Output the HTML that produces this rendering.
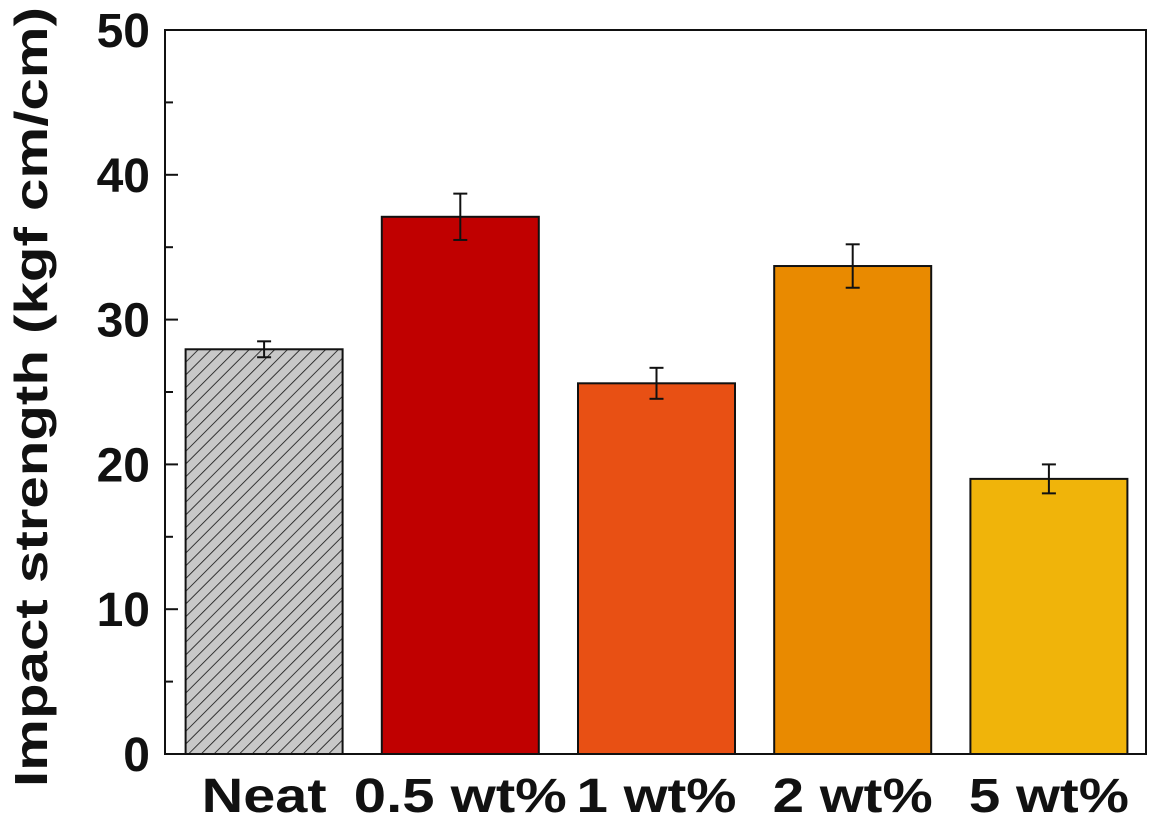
<!DOCTYPE html>
<html><head><meta charset="utf-8"><style>
html,body{margin:0;padding:0;background:#fff;}
svg{display:block;font-family:"Liberation Sans",Arial,sans-serif;font-weight:bold;}
</style></head><body>
<svg id="chart" width="1150" height="818" viewBox="0 0 1150 818">
<defs>
<pattern id="hatch" patternUnits="userSpaceOnUse" width="9" height="9" patternTransform="rotate(45)">
<rect width="9" height="9" fill="#c8c8c8"/>
<line x1="0" y1="0" x2="0" y2="9" stroke="#111" stroke-width="1.6"/>
</pattern>
</defs>
<g id="bars"></g>
<g id="axes"></g>
<text transform="translate(47,397) rotate(-90)" text-anchor="middle" font-size="46" textLength="780" lengthAdjust="spacingAndGlyphs" fill="#111">Impact strength (kgf cm/cm)</text>
</svg>
<script>
const categories = ["Neat","0.5 wt%","1 wt%","2 wt%","5 wt%"];
const values = [27.95, 37.1, 25.6, 33.7, 19.0];
const errors = [0.55, 1.6, 1.07, 1.5, 1.0];
const colors = ["url(#hatch)","#c00000","#e85014","#e98a00","#f0b40a"];
const yTicks = [0,10,20,30,40,50];
const labelWidths = [125, 213, 160, 160, 160];

const NS="http://www.w3.org/2000/svg";
const L=165,R=1146,T=30,B=754,yMax=50;
const y=v=>B-(v/yMax)*(B-T);
const slot=(R-L)/categories.length;
const bw=157;
const xc=i=>L+slot*(i+0.5)+1;
function mk(tag,attrs,parent){const e=document.createElementNS(NS,tag);for(const k in attrs)e.setAttribute(k,attrs[k]);parent.appendChild(e);return e;}
const bars=document.getElementById('bars'), axes=document.getElementById('axes');
categories.forEach((c,i)=>{
  const cx=xc(i);
  const r=mk('rect',{x:cx-bw/2,y:y(values[i]),width:bw,height:B-y(values[i]),fill:colors[i],stroke:"#111","stroke-width":2},bars);
  
  
  const g=mk('g',{stroke:"#111","stroke-width":2},bars);
  
  
  mk('line',{x1:cx,x2:cx,y1:y(values[i]+errors[i]),y2:y(values[i]-errors[i])},g);
  mk('line',{x1:cx-7,x2:cx+7,y1:y(values[i]+errors[i]),y2:y(values[i]+errors[i])},g);
  mk('line',{x1:cx-7,x2:cx+7,y1:y(values[i]-errors[i]),y2:y(values[i]-errors[i])},g);
  const t=mk('text',{x:cx,y:B+58,"text-anchor":"middle","font-size":48,textLength:labelWidths[i],lengthAdjust:"spacingAndGlyphs",fill:"#111"},axes);
  t.textContent=c;
  
  
});
const f=mk('rect',{x:L,y:T,width:R-L,height:B-T,fill:"none",stroke:"#111","stroke-width":2},axes);


for(let v=0;v<=yMax;v+=5){
  const major=v%10===0;
  mk('line',{x1:L,x2:L+(major?13:8),y1:y(v),y2:y(v),stroke:"#111","stroke-width":2},axes);
}
yTicks.forEach(v=>{
  const t=mk('text',{x:L-15,y:y(v)+17,"text-anchor":"end","font-size":48,fill:"#111"},axes);
  t.textContent=v;
  
  
});
</script>
</body></html>
